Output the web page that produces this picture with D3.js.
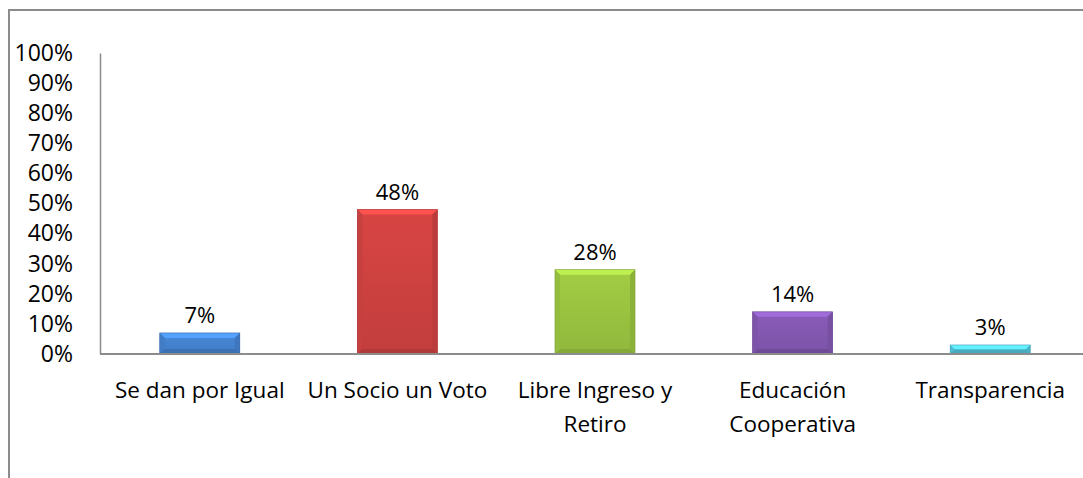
<!DOCTYPE html>
<html>
<head>
<meta charset="utf-8">
<script src="https://cdn.jsdelivr.net/npm/d3@7"></script>
<style>
  body { margin: 0; background: #fff; }
  text { font-family: "Open Sans", sans-serif; fill: #000; }
</style>
</head>
<body>
<svg id="chart" width="1083" height="478"></svg>
<script>
// data
var categories = ["Se dan por Igual", "Un Socio un Voto", "Libre Ingreso y Retiro", "Educación Cooperativa", "Transparencia"];
var labelLines = [["Se dan por Igual"], ["Un Socio un Voto"], ["Libre Ingreso y", "Retiro"], ["Educación", "Cooperativa"], ["Transparencia"]];
var values = [7, 48, 28, 14, 3];
var yTicks = [0, 10, 20, 30, 40, 50, 60, 70, 80, 90, 100];
var barColors = ["#4584d2", "#d04341", "#9cc641", "#8459b3", "#52c6df"];

var svg = d3.select('#chart');
var defs = svg.append('defs');

// outer frame (only top and left edges are visible)
svg.append('path')
    .attr('d', 'M9,478 L9,10 L1083,10')
    .attr('fill', 'none')
    .attr('stroke', '#8c8c8c')
    .attr('stroke-width', 2);

var x = d3.scaleBand()
    .domain(categories)
    .range([101, 1089])
    .paddingInner(0.595)
    .paddingOuter(0.2975);

var y = d3.scaleLinear()
    .domain([0, 100])
    .range([354, 53]);

// y axis
var yAxis = d3.axisLeft(y)
    .tickValues(yTicks)
    .tickSize(0)
    .tickPadding(27)
    .tickFormat(function (d) { return d + '%'; });

var gy = svg.append('g')
    .attr('transform', 'translate(100,0)')
    .call(yAxis);
gy.select('.domain').attr('stroke', '#8c8c8c').attr('stroke-width', 1.5);
gy.selectAll('text')
    .style('font-size', '23px')
    .style('font-family', '"Open Sans", sans-serif')
    .attr('fill', '#000');

// bars
var bev = 5;
function shade(c, k) {
    var col = d3.color(c);
    return k > 0 ? col.brighter(k).formatHex() : col.darker(-k).formatHex();
}

barColors.forEach(function (c, i) {
    var gr = defs.append('linearGradient')
        .attr('id', 'grad' + i)
        .attr('x1', 0).attr('y1', 0).attr('x2', 0).attr('y2', 1);
    gr.append('stop').attr('offset', '0%').attr('stop-color', shade(c, 0.1));
    gr.append('stop').attr('offset', '100%').attr('stop-color', shade(c, -0.2));
});

var bars = svg.append('g').selectAll('g')
    .data(values)
    .enter().append('g');

bars.each(function (d, i) {
    var g = d3.select(this);
    var x0 = x(categories[i]), w = x.bandwidth();
    var y0 = y(d), y1 = y(0), h = y1 - y0;
    var b = Math.min(bev, h / 2);
    var c = barColors[i];
    g.append('rect')
        .attr('x', x0).attr('y', y0)
        .attr('width', w).attr('height', h)
        .attr('fill', 'url(#grad' + i + ')');
    // top bevel
    g.append('path')
        .attr('d', 'M' + x0 + ',' + y0 + 'L' + (x0 + w) + ',' + y0 + 'L' + (x0 + w - b) + ',' + (y0 + b) + 'L' + (x0 + b) + ',' + (y0 + b) + 'Z')
        .attr('fill', shade(c, 0.55));
    // left bevel
    g.append('path')
        .attr('d', 'M' + x0 + ',' + y0 + 'L' + (x0 + b) + ',' + (y0 + b) + 'L' + (x0 + b) + ',' + (y1 - b) + 'L' + x0 + ',' + y1 + 'Z')
        .attr('fill', shade(c, -0.15));
    // right bevel
    g.append('path')
        .attr('d', 'M' + (x0 + w) + ',' + y0 + 'L' + (x0 + w - b) + ',' + (y0 + b) + 'L' + (x0 + w - b) + ',' + (y1 - b) + 'L' + (x0 + w) + ',' + y1 + 'Z')
        .attr('fill', shade(c, -0.3));
    // bottom bevel
    g.append('path')
        .attr('d', 'M' + x0 + ',' + y1 + 'L' + (x0 + b) + ',' + (y1 - b) + 'L' + (x0 + w - b) + ',' + (y1 - b) + 'L' + (x0 + w) + ',' + y1 + 'Z')
        .attr('fill', shade(c, -0.45));
    g.append('rect')
        .attr('x', x0).attr('y', y0)
        .attr('width', w).attr('height', h)
        .attr('fill', 'none')
        .attr('stroke', shade(c, -0.6))
        .attr('stroke-width', 0.6);
});

// value labels
svg.append('g').selectAll('text')
    .data(values)
    .enter().append('text')
    .attr('x', function (d, i) { return x(categories[i]) + x.bandwidth() / 2; })
    .attr('y', function (d) { return y(d) - 10; })
    .attr('text-anchor', 'middle')
    .style('font-size', '22px')
    .text(function (d) { return d + '%'; });

// x axis line
svg.append('line')
    .attr('x1', 100).attr('x2', 1083)
    .attr('y1', 354).attr('y2', 354)
    .attr('stroke', '#8c8c8c')
    .attr('stroke-width', 2);

// category labels
var cat = svg.append('g').selectAll('text')
    .data(labelLines)
    .enter().append('text')
    .attr('text-anchor', 'middle')
    .attr('transform', function (d, i) { return 'translate(' + (x(categories[i]) + x.bandwidth() / 2) + ',398)'; })
    .style('font-size', '22.5px');

cat.selectAll('tspan')
    .data(function (d) { return d; })
    .enter().append('tspan')
    .attr('x', 0)
    .attr('dy', function (d, j) { return j == 0 ? 0 : 34; })
    .text(function (d) { return d; });
</script>
</body>
</html>
